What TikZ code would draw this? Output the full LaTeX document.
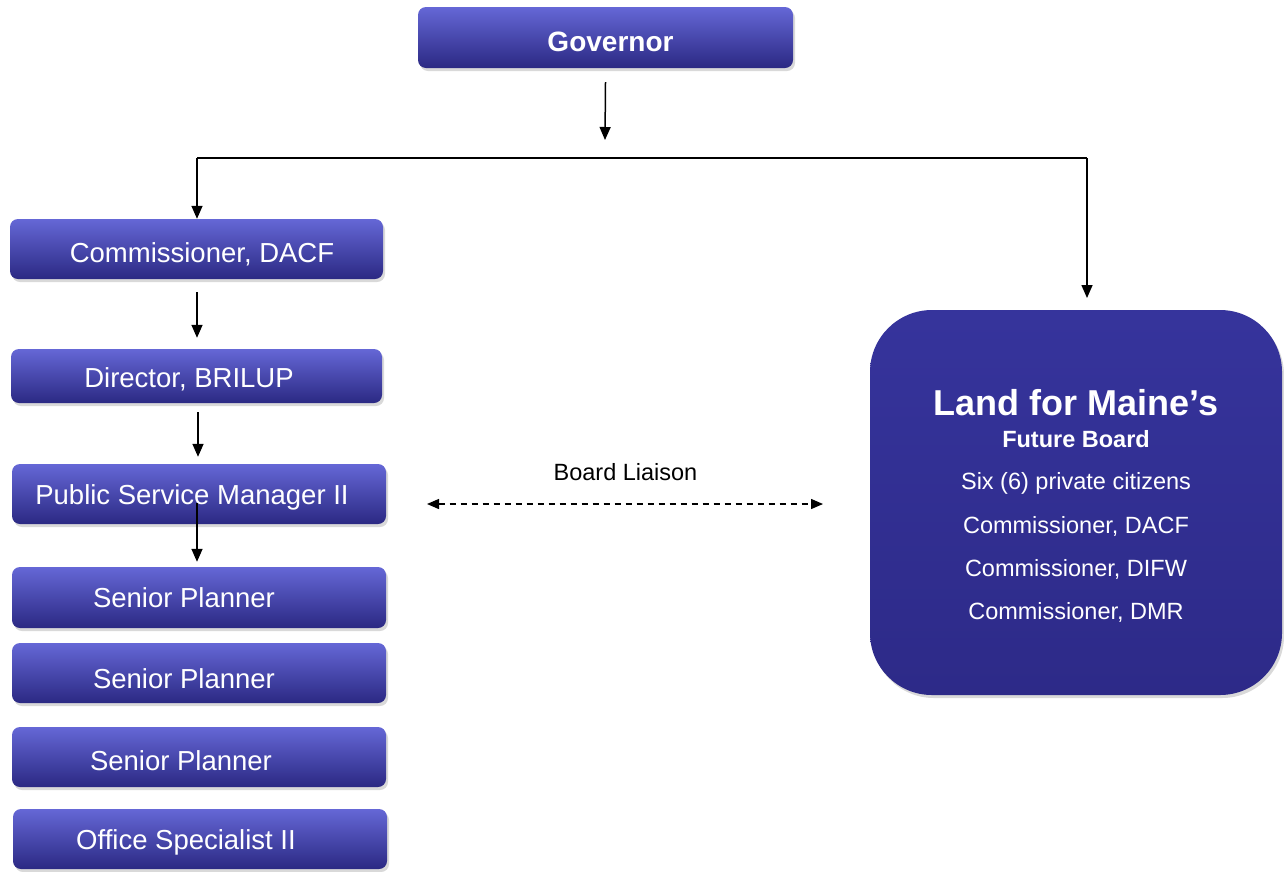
\documentclass[tikz,border=0pt]{standalone}
\usepackage{fontspec}
\setmainfont{Liberation Sans}
\usetikzlibrary{arrows.meta,shadows}
\definecolor{btop}{HTML}{6567D6}
\definecolor{bmid}{HTML}{3836A2}
\definecolor{bbot}{HTML}{2B2983}
\definecolor{bigtop}{HTML}{36349C}
\definecolor{bigbot}{HTML}{2D2A88}
\begin{document}
\begin{tikzpicture}[x=1pt,y=-1pt,
  box/.style={draw=none, rounded corners=8pt, top color=btop, middle color=bmid, bottom color=bbot,
    drop shadow={shadow xshift=2pt,shadow yshift=-3pt,opacity=0.3}, inner sep=0pt,
    minimum width=374pt, minimum height=60pt},
  lbl/.style={text=white, font=\fontsize{27.5}{33}\selectfont, inner sep=0pt, anchor=base},
  blbl/.style={text=white, font=\fontsize{23.5}{28}\selectfont, inner sep=0pt, anchor=base},
  tip/.style={},
  arr/.style={-{Triangle[width=11pt,length=13pt]}, line width=1.5pt, black},
  conn/.style={line width=1.5pt, black}]
\useasboundingbox (0,0) rectangle (1284,871);
% boxes
\node[box, minimum width=375pt, minimum height=61pt] (gov) at (605.5,37.5) {};
\node[lbl, font=\fontsize{28}{33}\selectfont\bfseries] (govt) at (610.5,51) {Governor};
\node[box, minimum width=373pt] (comm) at (196.5,249) {};
\node[lbl] (commt) at (202,262) {Commissioner, DACF};
\node[box, minimum width=371pt, minimum height=54pt] (dir) at (196.5,376) {};
\node[lbl] (dirt) at (189,387) {Director, BRILUP};
\node[box] (psm) at (199,494) {};
\node[lbl] (psmt) at (192,504) {Public Service Manager II};
\node[box, minimum height=61pt] (sp1) at (199,597.5) {};
\node[lbl] (sp1t) at (184,607) {Senior Planner};
\node[box] (sp2) at (199,673) {};
\node[lbl] (sp2t) at (184,688) {Senior Planner};
\node[box] (sp3) at (199,757) {};
\node[lbl] (sp3t) at (181,770) {Senior Planner};
\node[box] (os) at (200,839) {};
\node[lbl] (ost) at (186,849) {Office Specialist II};
% board
\node[draw=none, rounded corners=62pt, top color=bigtop, bottom color=bigbot,
  drop shadow={shadow xshift=2pt,shadow yshift=-3pt,opacity=0.3},
  minimum width=412pt, minimum height=385pt, inner sep=0pt] (board) at (1076,502.5) {};
\node[blbl, font=\fontsize{36}{40}\selectfont\bfseries] (b1) at (1076,415) {Land for Maine’s};
\node[blbl, font=\fontsize{23.5}{28}\selectfont\bfseries] (b2) at (1076,447) {Future Board};
\node[blbl] (b3) at (1076,489) {Six (6) private citizens};
\node[blbl] (b4) at (1076,533) {Commissioner, DACF};
\node[blbl] (b5) at (1076,576) {Commissioner, DIFW};
\node[blbl] (b6) at (1076,619) {Commissioner, DMR};
% liaison
\node[blbl, text=black] (liaison) at (625.5,480) {Board Liaison};
\coordinate (la) at (427,504);
\coordinate (lb) at (823,504);
\draw[line width=1.4pt, dash pattern=on 6pt off 5pt, {Triangle[width=10pt,length=12pt]}-{Triangle[width=10pt,length=12pt]}] (la) -- (lb);
% connectors
\coordinate (g2) at (605,140);
\coordinate (hl) at (197,158);
\coordinate (hr) at (1087,158);
\coordinate (hrb) at (1087,298);
\coordinate (c1) at (197,292);
\coordinate (c2) at (198,412);
\coordinate (c3) at (197,503);
\draw[arr] ([yshift=-14pt]gov.south) -- (g2);
\draw[conn] (hl) -- (hr);
\draw[arr] (hl) -- (hl |- comm.north);
\draw[arr] (hr) -- (hrb);
\draw[arr] (c1) -- ([yshift=11pt]c1 |- dir.north);
\draw[arr] (c2) -- ([yshift=7pt]c2 |- psm.north);
\draw[arr] (c3) -- ([yshift=5pt]c3 |- sp1.north);
\end{tikzpicture}
\end{document}
